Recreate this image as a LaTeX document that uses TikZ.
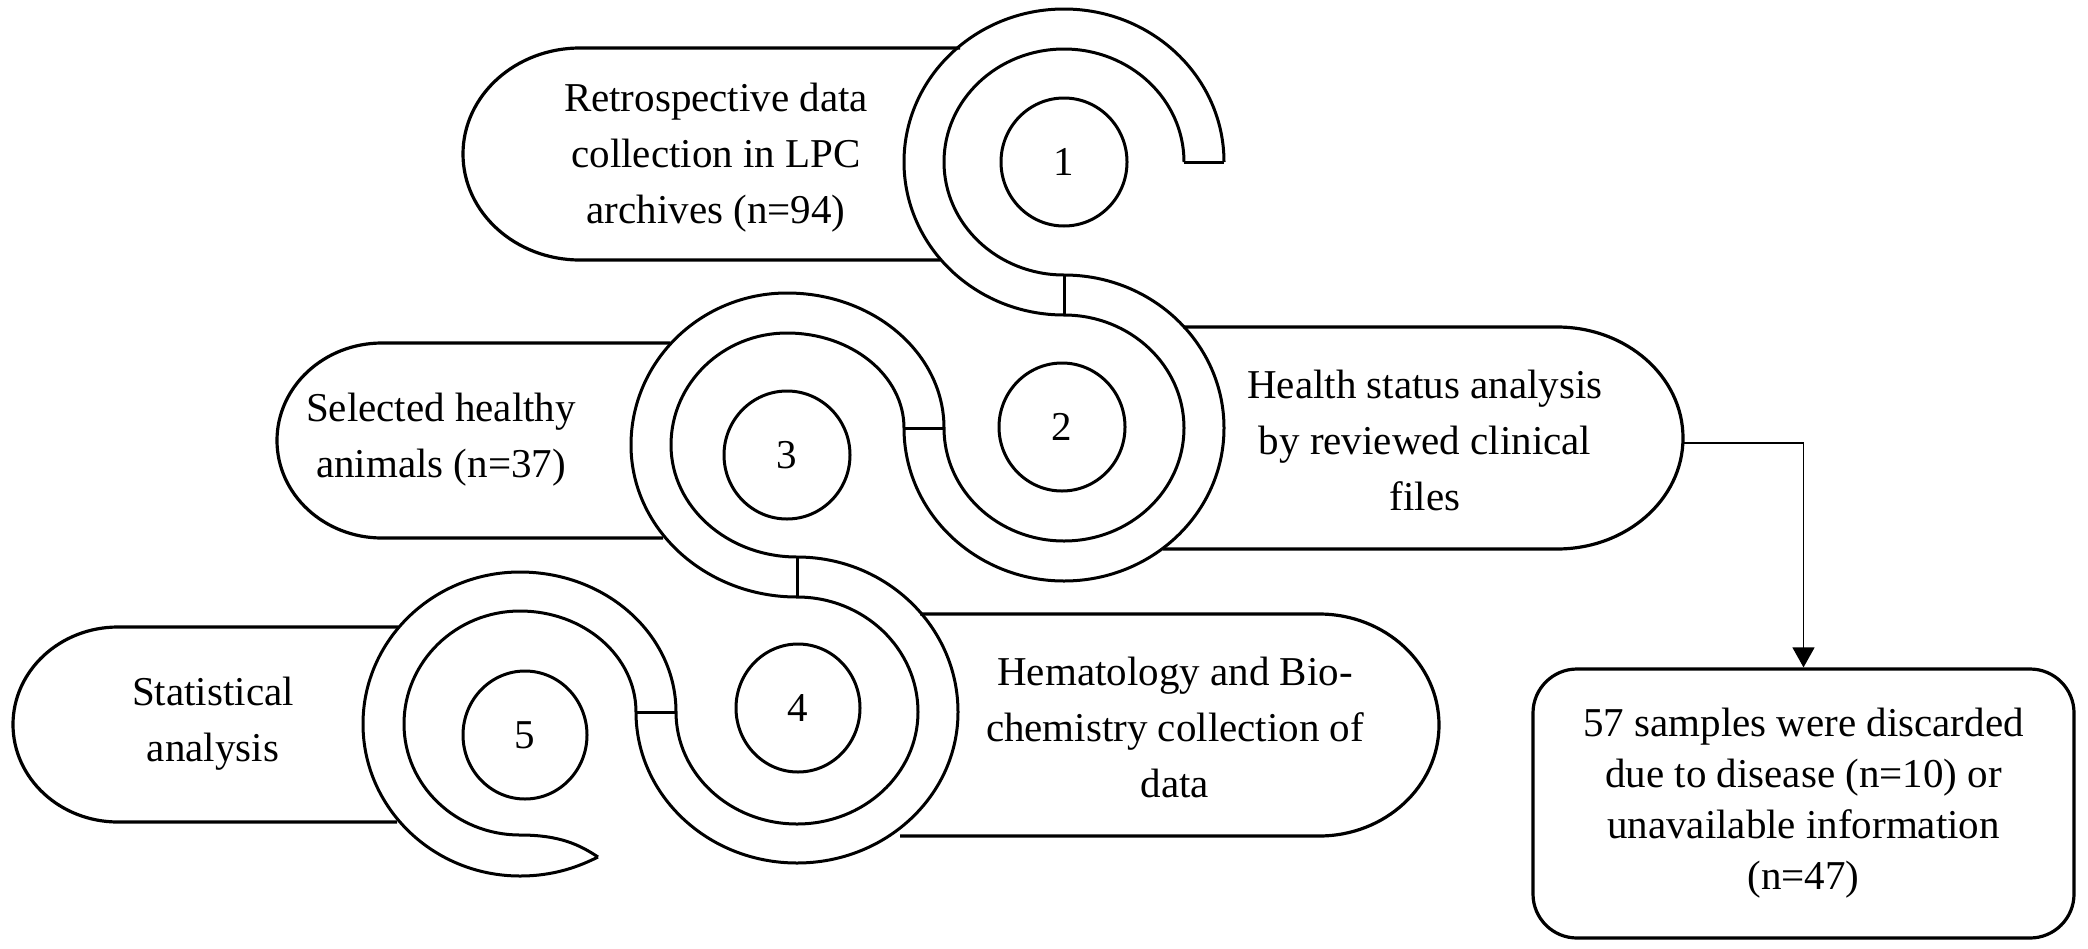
\documentclass[tikz,border=0pt]{standalone}
\usepackage{fontspec}
\setmainfont{Liberation Serif}
\usetikzlibrary{arrows.meta}
\begin{document}
\begin{tikzpicture}[x=0.5pt,y=-0.5pt,
  ring/.style={line width=1.5pt,line join=round},
  bx/.style={line width=1.6pt},
  lbl/.style={align=center,font=\fontsize{20.5}{28}\selectfont,inner sep=0pt},
  num/.style={font=\fontsize{20.5}{24}\selectfont,inner sep=0pt},
  dot/.style={line width=1.5pt}]
\useasboundingbox (0,0) rectangle (2088,948);
% boxes
\draw[bx] (960,48) -- (580,48) arc[start angle=-90,end angle=-270,x radius=117,y radius=106] -- (940,260);
\draw[bx] (1183,327) -- (1557,327) arc[start angle=-90,end angle=90,x radius=126,y radius=111] -- (1163,549);
\draw[bx] (670,343) -- (382,343) arc[start angle=-90,end angle=-270,x radius=105,y radius=97.5] -- (663,538);
\draw[bx] (920,614) -- (1319,614) arc[start angle=-90,end angle=90,x radius=120,y radius=111] -- (900,836);
\draw[bx] (398,627) -- (118,627) arc[start angle=-90,end angle=-270,x radius=105,y radius=97.5] -- (397,822);
% unit 1
\draw[ring] (1224,162) arc[start angle=0,end angle=-270,x radius=160,y radius=153];
\draw[ring] (1184,162) arc[start angle=0,end angle=-270,x radius=120,y radius=113];
\draw[ring] (1184,162) -- (1224,162);
\draw[ring] (1064,275) -- (1064,315);
% unit 2
\draw[ring] (1064,275) arc[start angle=-90,end angle=180,x radius=160,y radius=153];
\draw[ring] (1064,315) arc[start angle=-90,end angle=180,x radius=120,y radius=113];
\draw[ring] (904,428) -- (944,428);
% unit 3
\draw[ring] (904,428) arc[start angle=0,end angle=-90,x radius=117,y radius=95]
  arc[start angle=-90,end angle=-180,x radius=116,y radius=112]
  arc[start angle=-180,end angle=-270,x radius=126,y radius=112];
\draw[ring] (944,428) arc[start angle=0,end angle=-90,x radius=157,y radius=135]
  arc[start angle=-90,end angle=-180,x radius=156,y radius=152]
  arc[start angle=-180,end angle=-270,x radius=166,y radius=152];
\draw[ring] (797,557) -- (797,597);
% unit 4
\draw[ring] (797,557) arc[start angle=-90,end angle=0,x radius=161,y radius=155]
  arc[start angle=0,end angle=90,x radius=161,y radius=151]
  arc[start angle=90,end angle=180,x radius=161,y radius=151];
\draw[ring] (797,597) arc[start angle=-90,end angle=0,x radius=121,y radius=115]
  arc[start angle=0,end angle=90,x radius=121,y radius=112]
  arc[start angle=90,end angle=180,x radius=121,y radius=112];
\draw[ring] (636,712) -- (676,712);
% unit 5
\draw[ring] (636,712) arc[start angle=0,end angle=-90,x radius=116,y radius=101]
  arc[start angle=-90,end angle=-180,x radius=116,y radius=113]
  arc[start angle=-180,end angle=-270,x radius=116,y radius=111]
  .. controls (560,835) and (580,845) .. (598,857);
\draw[ring] (676,712) arc[start angle=0,end angle=-90,x radius=156,y radius=140]
  arc[start angle=-90,end angle=-180,x radius=157,y radius=152]
  arc[start angle=-180,end angle=-270,x radius=157,y radius=152]
  .. controls (555,876) and (580,866) .. (598,857);
% inner circles
\draw[dot] (1064,162) ellipse[x radius=63,y radius=64];
\draw[dot] (1062,427) ellipse[x radius=63,y radius=64];
\draw[dot] (787,455) ellipse[x radius=63,y radius=64];
\draw[dot] (798,708) ellipse[x radius=62,y radius=64];
\draw[dot] (525,735) ellipse[x radius=62,y radius=64];
\node[num] (n1) at (1064,162) {1};
\node[num] (n2) at (1062,427) {2};
\node[num] (n3) at (787,455) {3};
\node[num] (n4) at (798,708) {4};
\node[num] (n5) at (525,735) {5};
% texts
\node[lbl] (t1) at (716,158) {Retrospective data\\collection in LPC\\archives (n=94)};
\node[lbl] (t2) at (1425,440) {Health status analysis\\by reviewed clinical\\files};
\node[lbl] (t3) at (441,440) {Selected healthy\\animals (n=37)};
\node[lbl] (t4) at (1175,727) {Hematology and Bio-\\chemistry collection of\\data};
\node[lbl] (t5) at (213,724) {Statistical\\analysis};
\node[bx,draw,rounded corners=22pt,minimum width=270.5pt,minimum height=134.5pt,align=center,
  font=\fontsize{20.5}{25.5}\selectfont,inner sep=0pt] (disc) at (1803.5,803.5)
  {57 samples were discarded\\due to disease (n=10) or\\unavailable information\\(n=47)};
\coordinate (h2) at (1683,443);
\draw[line width=0.65pt,-{Triangle[length=10pt,width=11pt]}] (h2) -| (disc.north);
\end{tikzpicture}
\end{document}
